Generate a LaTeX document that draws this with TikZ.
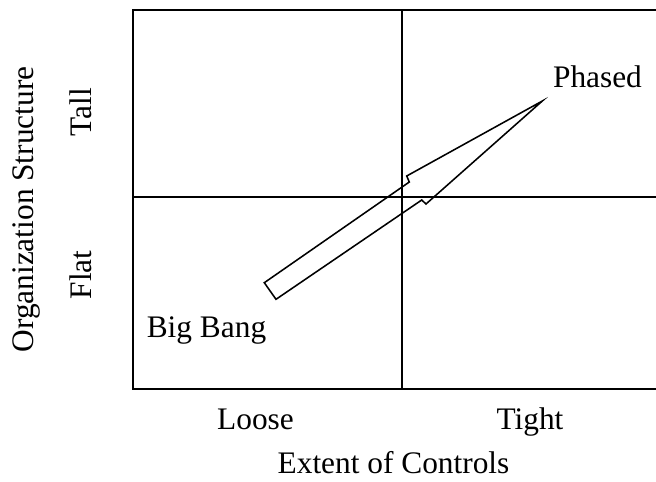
\documentclass[tikz,border=0pt]{standalone}
\usepackage{fontspec}
\setmainfont{Liberation Serif}
\usepackage{tikz}
\usetikzlibrary{positioning}

\tikzset{
    label/.style={font=\fontsize{22.3}{26}\selectfont, inner sep=0pt, anchor=base},
    frame/.style={line width=1.5pt},
    bigarrow/.style={line width=1.1pt, line join=miter}
}

\begin{document}
\begin{tikzpicture}[x=0.025cm, y=-0.025cm]
    \useasboundingbox (0, 0) rectangle (656, 481);

    % quadrant frame
    \coordinate (tl) at (133, 10);
    \coordinate (bl) at (133, 389);
    \coordinate (tr) at (656, 10);
    \coordinate (br) at (656, 389);
    \coordinate (mt) at (402, 10);
    \coordinate (mb) at (402, 389);
    \coordinate (ml) at (133, 197);
    \coordinate (mr) at (656, 197);
    \draw[frame] (tr) -- (tl) -- (bl) -- (br);
    \draw[frame] (mt) -- (mb);
    \draw[frame] (ml) -- (mr);

    % axis labels
    \node (org) at (33, 209.5) [label, rotate=90] {Organization Structure};
    \node (tall) at (91, 112) [label, rotate=90] {Tall};
    \node (flat) at (91, 275) [label, rotate=90] {Flat};
    \node (loose) at (255.5, 429) [label] {Loose};
    \node (tight) at (530, 429) [label] {Tight};
    \node (extent) at (393.5, 473) [label] {Extent of Controls};

    % migration arrow
    \node (bigbang) at (206.5, 337) [label] {Big Bang};
    \node (phased) at (597.5, 87) [label] {Phased};
    \draw[bigarrow] (264.3, 282.7) -- (276, 299.3) -- (421.7, 200) -- (426, 204)
        -- (542.3, 101) -- (406.7, 176) -- (409.3, 182) -- cycle;

\end{tikzpicture}
\end{document}
